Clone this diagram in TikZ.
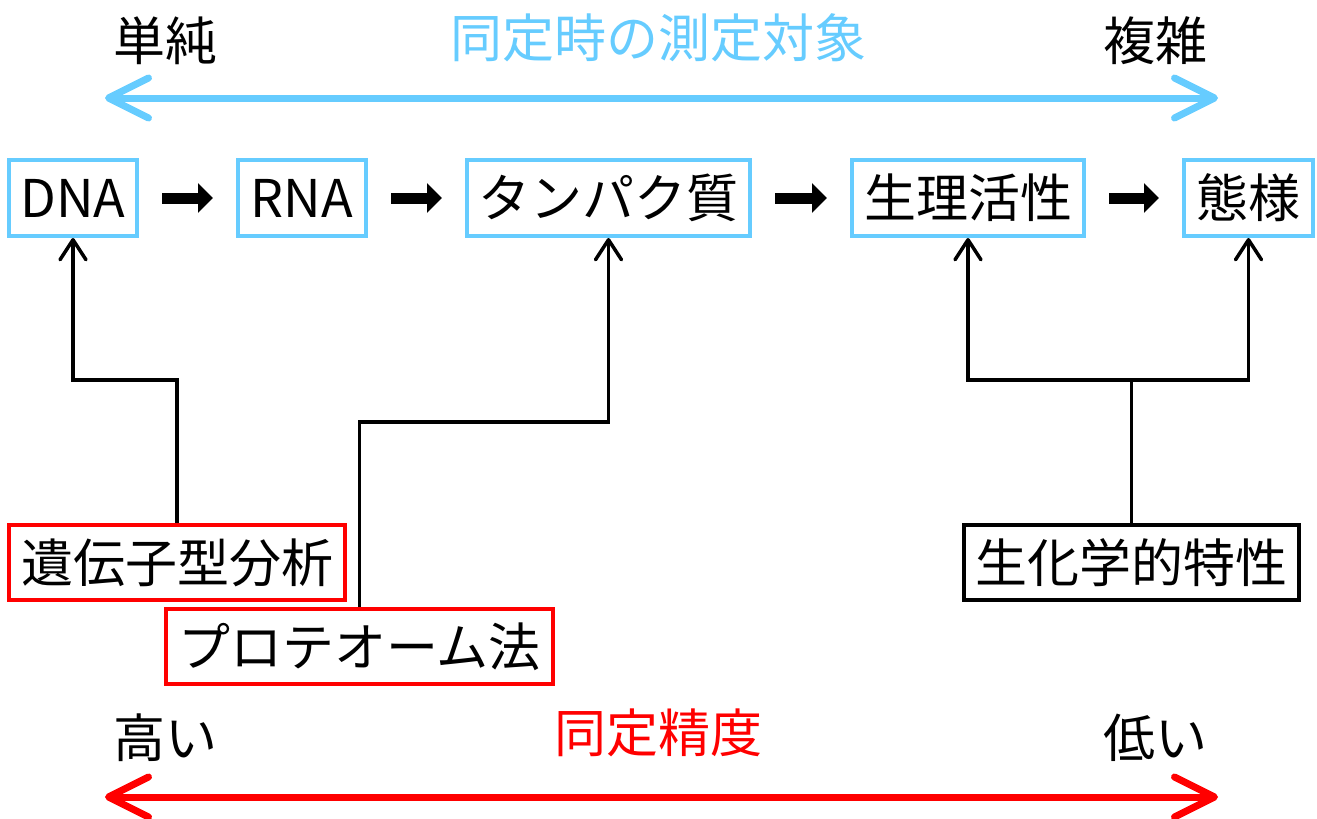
\documentclass[tikz,border=0pt]{standalone}
\usepackage{fontspec}
\setmainfont{Noto Sans CJK JP}
\usetikzlibrary{arrows.meta}
\definecolor{skyblue}{RGB}{102,204,255}
\definecolor{pure red}{RGB}{255,0,0}
\tikzset{
  every node/.style={font=\fontsize{52pt}{60pt}\selectfont, inner sep=0pt},
  stagebox/.style={draw=skyblue, line width=4pt, minimum height=76pt},
  methodbox/.style={draw=pure red, line width=4pt, minimum height=75pt},
  blackbox/.style={draw=black, line width=4pt, minimum height=75pt},
  flowarrow/.style={line width=11pt, -{Triangle[length=15pt,width=29pt]}, shorten <=23pt, shorten >=23pt},
  conn/.style={line width=3.5pt, -{Straight Barb[length=20pt,width=26pt,round]}},
  axisarrow/.style={line width=7pt, line cap=round, {Straight Barb[length=40pt,width=40pt,round]}-{Straight Barb[length=40pt,width=40pt,round]}},
}
\begin{document}
\begin{tikzpicture}[x=1pt,y=-1pt]
\useasboundingbox (0,0) rectangle (1317,819);

% top axis
\node (simple) at (165,41) {単純};
\node[text=skyblue] (target) at (658,38) {同定時の測定対象};
\node (complex) at (1155,41) {複雑};
\coordinate (tl) at (105,98);
\coordinate (tr) at (1218,98);
\draw[skyblue, axisarrow] (tl) -- (tr);

% stage boxes
\node[stagebox, minimum width=128pt] (dna) at (73,198) {DNA};
\node[stagebox, minimum width=128pt] (rna) at (302,198) {RNA};
\node[stagebox, minimum width=283pt] (prot) at (608.5,198) {タンパク質};
\node[stagebox, minimum width=232pt] (phys) at (968,198) {生理活性};
\node[stagebox, minimum width=129pt] (mode) at (1248.5,198) {態様};

\draw[flowarrow] (dna.east) -- (rna.west);
\draw[flowarrow] (rna.east) -- (prot.west);
\draw[flowarrow] (prot.east) -- (phys.west);
\draw[flowarrow] (phys.east) -- (mode.west);

% method boxes
\node[methodbox, minimum width=336pt] (geno) at (177,562.5) {遺伝子型分析};
\node[methodbox, minimum width=387pt] (prote) at (359.5,646.5) {プロテオーム法};
\node[blackbox, minimum width=335pt] (bio) at (1131.5,562.5) {生化学的特性};

\coordinate (h1) at (0,380);
\coordinate (h2) at (0,422);
\draw[conn] (geno.north) -- (geno.north |- h1) -| (dna.south);
\draw[conn] (prote.north) -- (prote.north |- h2) -| (prot.south);
\coordinate (split) at (bio.north |- h1);
\draw[line width=3.5pt] (bio.north) -- (split);
\draw[conn] (split) -| (phys.south);
\draw[conn] (split) -| (mode.south);

% bottom axis
\node (high) at (165,738) {高い};
\node[text=pure red] (acc) at (658,733) {同定精度};
\node (low) at (1155,738) {低い};
\coordinate (bl) at (105,797);
\coordinate (br) at (1218,797);
\draw[pure red, axisarrow] (bl) -- (br);
\end{tikzpicture}
\end{document}
